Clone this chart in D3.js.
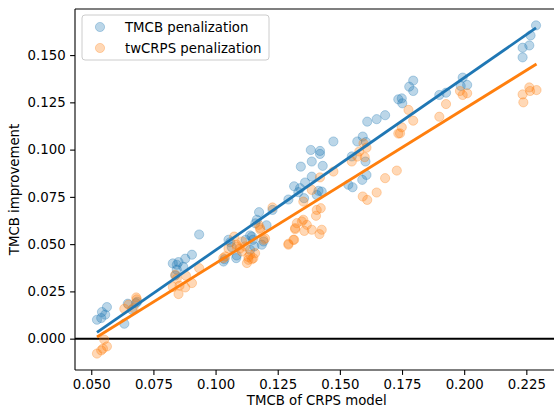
<!DOCTYPE html>
<html><head><meta charset="utf-8">
<script src="https://cdn.jsdelivr.net/npm/d3@7"></script>
<style>
html,body{margin:0;padding:0;background:#fff;}
svg{display:block;font-family:"DejaVu Sans",sans-serif;}
</style></head>
<body><svg id="c" width="554" height="410"></svg>
<script>
const seriesNames = ["TMCB penalization", "twCRPS penalization"];
const seriesColors = ["#1f77b4", "#ff7f0e"];
const xTicks = [0.050, 0.075, 0.100, 0.125, 0.150, 0.175, 0.200, 0.225];
const yTicks = [0.000, 0.025, 0.050, 0.075, 0.100, 0.125, 0.150];
const xLabel = "TMCB of CRPS model";
const yLabel = "TMCB improvement";
// linear fit lines: [slope, intercept]
const fitSlopes = [0.912, 0.8165];
const fitIntercepts = [-0.0444, -0.0418];

const tmcbPoints = [
 [0.0523,0.0100],[0.0540,0.0109],[0.0543,0.0141],[0.0556,0.0127],[0.0563,0.0167],
 [0.0633,0.0079],[0.0647,0.0185],[0.0664,0.0153],[0.0680,0.0188],[0.0685,0.0195],
 [0.0828,0.0398],[0.0844,0.0391],[0.0851,0.0405],[0.0878,0.0423],[0.0905,0.0444],[0.0934,0.0551],[0.0844,0.0365],[0.0838,0.0334],[0.0870,0.0380],
 [0.1032,0.0408],[0.1036,0.0420],[0.1052,0.0523],[0.1059,0.0510],[0.1065,0.0484],[0.1083,0.0426],[0.1085,0.0440],[0.1121,0.0523],[0.1139,0.0546],[0.1139,0.0470],[0.1146,0.0540],[0.1150,0.0523],[0.1156,0.0488],[0.1160,0.0610],[0.1166,0.0629],[0.1175,0.0669],[0.1186,0.0497],[0.1193,0.0514],[0.1229,0.0681],[0.1205,0.0600],
 [0.1293,0.0736],[0.1316,0.0806],[0.1333,0.0775],[0.1340,0.0796],[0.1343,0.0910],[0.1356,0.0743],[0.1360,0.0826],[0.1383,0.0998],[0.1387,0.0937],[0.1387,0.0857],[0.1407,0.0760],[0.1414,0.0782],[0.1420,0.0993],[0.1420,0.0977],[0.1427,0.0778],[0.1431,0.0914],[0.1474,0.1043],
 [0.1534,0.0814],[0.1548,0.0964],[0.1551,0.0801],[0.1570,0.1043],[0.1590,0.0840],[0.1592,0.1069],[0.1603,0.0937],[0.1605,0.1040],[0.1607,0.0866],[0.1610,0.1148],[0.1648,0.1161],[0.1682,0.1182],
 [0.1735,0.1266],[0.1749,0.1271],[0.1751,0.1245],[0.1779,0.1333],[0.1795,0.1365],[0.1795,0.1310],
 [0.1900,0.1289],[0.1927,0.1301],[0.1986,0.1337],[0.1994,0.1381],[0.2012,0.1342],
 [0.2235,0.1539],[0.2235,0.1488],[0.2262,0.1551],[0.2267,0.1604],[0.2289,0.1657]
];
const twcrpsPoints = [
 [0.0523,-0.0079],[0.0540,-0.0062],[0.0547,-0.0053],[0.0563,-0.0041],[0.0552,-0.0005],
 [0.0633,0.0158],[0.0650,0.0180],[0.0670,0.0162],[0.0681,0.0218],[0.0683,0.0208],
 [0.0838,0.0338],[0.0844,0.0317],[0.0828,0.0273],[0.0851,0.0236],[0.0855,0.0280],[0.0878,0.0271],[0.0881,0.0333],[0.0905,0.0294],[0.0934,0.0373],
 [0.1031,0.0426],[0.1039,0.0435],[0.1052,0.0476],[0.1075,0.0540],[0.1085,0.0497],[0.1086,0.0488],[0.1097,0.0476],[0.1106,0.0461],[0.1107,0.0514],[0.1119,0.0488],[0.1126,0.0400],[0.1132,0.0417],[0.1132,0.0432],[0.1139,0.0444],[0.1146,0.0420],[0.1152,0.0426],[0.1159,0.0452],[0.1173,0.0602],[0.1179,0.0585],[0.1180,0.0576],[0.1193,0.0523],[0.1199,0.0530],[0.1229,0.0694],
 [0.1293,0.0497],[0.1293,0.0502],[0.1313,0.0523],[0.1316,0.0523],[0.1320,0.0579],[0.1320,0.0585],[0.1327,0.0611],[0.1347,0.0620],[0.1353,0.0629],[0.1353,0.0725],[0.1357,0.0570],[0.1367,0.0602],[0.1387,0.0576],[0.1387,0.0787],[0.1404,0.0650],[0.1407,0.0681],[0.1418,0.0553],[0.1420,0.0853],[0.1423,0.0690],[0.1427,0.0576],[0.1474,0.0884],
 [0.1548,0.0937],[0.1570,0.0963],[0.1578,0.0990],[0.1592,0.0752],[0.1595,0.1033],[0.1600,0.0960],[0.1607,0.1010],[0.1610,0.0734],[0.1648,0.0773],[0.1682,0.0849],[0.1729,0.0889],
 [0.1735,0.1085],[0.1742,0.1086],[0.1749,0.1118],[0.1776,0.1210],[0.1795,0.1153],
 [0.1900,0.1174],[0.1927,0.1241],[0.1983,0.1310],[0.1994,0.1289],[0.2012,0.1298],
 [0.2235,0.1292],[0.2238,0.1250],[0.2262,0.1329],[0.2265,0.1310],[0.2291,0.1315]
];
const allSeries = [tmcbPoints, twcrpsPoints];

const svg = d3.select("#c");
const L = 75, R = 558.5, T = 9, B = 370;
const FS = 13.3;

// matplotlib-like 5% margins
const allPts = allSeries.flat();
const xe = d3.extent(allPts, d => d[0]), ye = d3.extent(allPts, d => d[1]);
const xm = (xe[1]-xe[0])*0.05, ym = (ye[1]-ye[0])*0.05;
const x = d3.scaleLinear().domain([xe[0]-xm, xe[1]+xm]).range([L, R]);
const y = d3.scaleLinear().domain([ye[0]-ym, ye[1]+ym]).range([B, T]);

svg.append("clipPath").attr("id","clip").append("rect")
  .attr("x", L).attr("y", T).attr("width", R-L).attr("height", B-T);
const plot = svg.append("g").attr("clip-path","url(#clip)");

// zero line
plot.append("line").attr("x1", L).attr("x2", R).attr("y1", y(0)).attr("y2", y(0))
  .attr("stroke","#000").attr("stroke-width",2);

// scatter
allSeries.forEach((pts, i) => {
  plot.append("g").selectAll("circle").data(pts).join("circle")
    .attr("cx", d => x(d[0])).attr("cy", d => y(d[1])).attr("r", 4.6)
    .attr("fill", seriesColors[i]).attr("fill-opacity", 0.3)
    .attr("stroke", seriesColors[i]).attr("stroke-opacity", 0.3).attr("stroke-width", 1);
});

// fit lines over each series' x range
allSeries.forEach((pts, i) => {
  const ex = d3.extent(pts, d => d[0]);
  const seg = ex.map(v => [v, fitIntercepts[i] + fitSlopes[i]*v]);
  plot.append("path").datum(seg)
    .attr("d", d3.line().x(d=>x(d[0])).y(d=>y(d[1])))
    .attr("stroke", seriesColors[i]).attr("stroke-width", 2.8).attr("fill","none");
});

// axes
const xa = svg.append("g").attr("transform",`translate(0,${B})`)
  .call(d3.axisBottom(x).tickValues(xTicks).tickFormat(d3.format(".3f")).tickSize(4.9).tickPadding(4.5));
const ya = svg.append("g").attr("transform",`translate(${L},0)`)
  .call(d3.axisLeft(y).tickValues(yTicks).tickFormat(d3.format(".3f")).tickSize(4.9).tickPadding(4.5));
[xa, ya].forEach(a => {
  a.select(".domain").remove();
  a.selectAll("line").attr("stroke","#000").attr("stroke-width",1.1);
  a.selectAll("text").attr("font-size", FS).attr("fill","#000").attr("font-family","DejaVu Sans");
});

// spines
const sp = svg.append("g").attr("stroke","#000").attr("stroke-width",1.1);
sp.append("line").attr("x1",L).attr("x2",L).attr("y1",T).attr("y2",B);
sp.append("line").attr("x1",L).attr("x2",R).attr("y1",B).attr("y2",B);
sp.append("line").attr("x1",L).attr("x2",R).attr("y1",T).attr("y2",T);
sp.append("line").attr("x1",R).attr("x2",R).attr("y1",T).attr("y2",B);

// axis labels
svg.append("text").attr("x", (L+R)/2).attr("y", 405).attr("text-anchor","middle")
  .attr("font-size", FS).attr("fill","#000").text(xLabel);
svg.append("text").attr("transform",`translate(19,${(T+B)/2}) rotate(-90)`).attr("text-anchor","middle")
  .attr("font-size", FS).attr("fill","#000").text(yLabel);

// legend
const lg = svg.append("g");
lg.append("rect").attr("x", 82).attr("y", 15).attr("width", 187).attr("height", 45).attr("rx", 3)
  .attr("fill","#fff").attr("fill-opacity",0.8).attr("stroke","#ccc").attr("stroke-width",1);
seriesNames.forEach((n, i) => {
  const cy = 27 + i*21;
  lg.append("circle").attr("cx", 100).attr("cy", cy).attr("r", 4.6)
    .attr("fill", seriesColors[i]).attr("fill-opacity",0.3)
    .attr("stroke", seriesColors[i]).attr("stroke-opacity",0.3);
  lg.append("text").attr("x", 125).attr("y", cy + 4.8).attr("font-size", FS).attr("fill","#000").text(n);
});
</script></body></html>
